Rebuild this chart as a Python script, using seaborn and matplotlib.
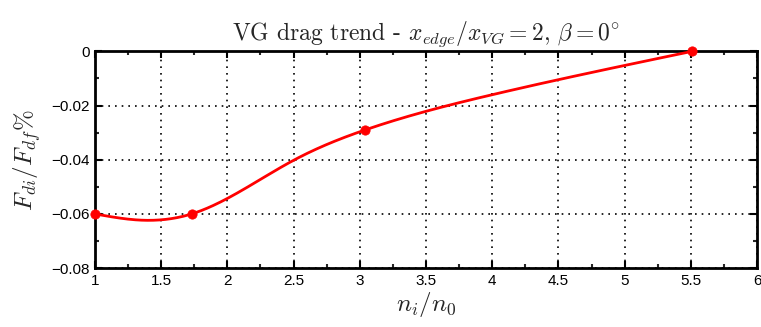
import numpy as np
import pandas as pd
import matplotlib
matplotlib.use("Agg")
import matplotlib.pyplot as plt
import seaborn as sns
from matplotlib.ticker import MultipleLocator, FuncFormatter

# marker data
n_ratio = [1.0, 1.73, 3.04, 5.51]
drag = [-0.060, -0.060, -0.029, 0.000]

# points along the drawn smooth curve
curve_x = [1.0, 1.35, 1.73, 2.5, 3.04, 4.0, 5.51]
curve_y = [-0.060, -0.0623, -0.060, -0.0402, -0.029, -0.0160, 0.0]

x_ticks = [1, 1.5, 2, 2.5, 3, 3.5, 4, 4.5, 5, 5.5, 6]
y_ticks = [-0.08, -0.06, -0.04, -0.02, 0]


def natural_spline(x, y, xs):
    x = np.asarray(x, float)
    y = np.asarray(y, float)
    n = len(x)
    h = np.diff(x)
    d = np.diff(y) / h
    A = np.zeros((n, n))
    b = np.zeros(n)
    A[0, 0] = A[-1, -1] = 1
    for i in range(1, n - 1):
        A[i, i - 1] = h[i - 1]
        A[i, i] = 2 * (h[i - 1] + h[i])
        A[i, i + 1] = h[i]
        b[i] = 3 * (d[i] - d[i - 1])
    c = np.linalg.solve(A, b)
    out = np.empty_like(xs)
    for k, xv in enumerate(xs):
        i = min(max(np.searchsorted(x, xv) - 1, 0), n - 2)
        bi = d[i] - h[i] * (2 * c[i] + c[i + 1]) / 3
        di = (c[i + 1] - c[i]) / (3 * h[i])
        t = xv - x[i]
        out[k] = y[i] + bi * t + c[i] * t ** 2 + di * t ** 3
    return out


sns.set_theme(style="white")
plt.rcParams['font.family'] = ['Liberation Sans', 'DejaVu Sans']
plt.rcParams['mathtext.fontset'] = 'cm'

fig = plt.figure(figsize=(7.61, 3.27), dpi=100)
ax = fig.add_axes([0.1248, 0.180, 0.870, 0.663])

xs = np.linspace(min(curve_x), max(curve_x), 400)
curve = pd.DataFrame({"x": xs, "y": natural_spline(curve_x, curve_y, xs)})
pts = pd.DataFrame({"x": n_ratio, "y": drag})

sns.lineplot(data=curve, x="x", y="y", ax=ax, color="#ff0000", linewidth=2, zorder=3)
sns.scatterplot(data=pts, x="x", y="y", ax=ax, color="#ff0000", s=45, edgecolor="#ff0000", zorder=4, clip_on=False)

ax.set_xlim(1, 6)
ax.set_ylim(-0.08, 0)
ax.set_xticks(x_ticks)
ax.set_yticks(y_ticks)
ax.xaxis.set_minor_locator(MultipleLocator(0.25))
ax.yaxis.set_minor_locator(MultipleLocator(0.01))
ax.xaxis.set_major_formatter(FuncFormatter(lambda v, p: f"{v:g}"))
ax.yaxis.set_major_formatter(FuncFormatter(lambda v, p: "0" if abs(v) < 1e-9 else f"{v:.2f}".replace("-", "\u2212")))

ax.grid(True, which="major", color="black", linestyle=(0, (1, 3)), linewidth=1.2)
ax.tick_params(which="major", direction="in", length=5, width=1.5, labelsize=11, colors="black",
               top=True, right=True, pad=4, left=True, bottom=True)
ax.tick_params(which="minor", direction="in", length=3, width=1.5, top=True, right=True, left=True, bottom=True)
for s in ax.spines.values():
    s.set_color("black")
    s.set_linewidth(2)

ax.set_title(r"VG drag trend - $x_{edge}/x_{VG}=2$, $\beta=0^{\circ}$", fontsize=17, pad=8,
             fontfamily="cmr10")
ax.set_xlabel(r"$n_i/n_0$", fontsize=18, labelpad=2)
ax.set_ylabel(r"$F_{di}/F_{df}$%", fontsize=18, labelpad=6, fontfamily="cmr10")

fig.savefig("out.png", dpi=100)
